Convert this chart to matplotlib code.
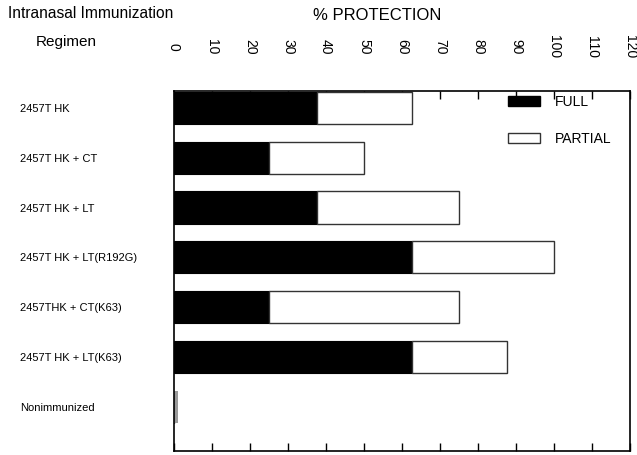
import matplotlib
matplotlib.use("Agg")
import matplotlib.pyplot as plt
from matplotlib.patches import Patch

plt.rcParams['font.family'] = ['Liberation Sans', 'DejaVu Sans']

categories = ["2457T HK", "2457T HK + CT", "2457T HK + LT", "2457T HK + LT(R192G)",
              "2457THK + CT(K63)", "2457T HK + LT(K63)", "Nonimmunized"]
full = [37.5, 25, 37.5, 62.5, 25, 62.5, 0]
partial = [25, 25, 37.5, 37.5, 50, 25, 0]
baseline_mark = [0, 0, 0, 0, 0, 0, 1.0]   # gray sliver shown for Nonimmunized
xticks = [0, 10, 20, 30, 40, 50, 60, 70, 80, 90, 100, 110, 120]

W, H = 637, 455
fig = plt.figure(figsize=(W / 100, H / 100), dpi=100)
ax = fig.add_axes([174 / W, (H - 451) / H, 456 / W, 360 / H])

ypos = list(range(len(categories)))
bh = 0.65
ax.barh(ypos, full, height=bh, color='black', edgecolor='black', linewidth=0.8, zorder=2)
ax.barh(ypos, partial, left=full, height=bh, color='white', edgecolor='#333333', linewidth=1.0, zorder=2)
ax.barh(ypos, baseline_mark, height=bh, color='#999999', edgecolor='none', zorder=2)

ax.set_xlim(0, 120)
ax.set_ylim(6.89, -0.34)

ax.set_xticks(xticks)
ax.set_xticklabels([str(t) for t in xticks], rotation=-90, va='center', ha='center', fontsize=10)
ax.tick_params(axis='x', which='both', direction='in', top=True, bottom=True,
               labeltop=True, labelbottom=False, length=6, width=1.0, pad=32)

ax.set_yticks(ypos)
ax.set_yticklabels(categories, ha='left', fontsize=8)
ax.tick_params(axis='y', length=0, pad=111)

for s in ax.spines.values():
    s.set_linewidth(1.2)
    s.set_color('black')

handles = [Patch(facecolor='black', edgecolor='black', label='FULL'),
           Patch(facecolor='white', edgecolor='#333333', label='PARTIAL')]
ax.legend(handles=handles, loc='upper left', bbox_to_anchor=((508 - 174) / 456, (451 - 95) / 360),
          frameon=False, fontsize=10, handlelength=2.3, handleheight=0.8,
          handletextpad=1.1, labelspacing=1.65, borderpad=0, borderaxespad=0)

fig.text(8 / W, 1 - 14 / H, "Intranasal Immunization", fontsize=11.2, ha='left', va='center')
fig.text(36 / W, 1 - 42 / H, "Regimen", fontsize=11, ha='left', va='center')
fig.text(377 / W, 1 - 15 / H, "% PROTECTION", fontsize=12, ha='center', va='center')

fig.savefig("out.png", dpi=100)
